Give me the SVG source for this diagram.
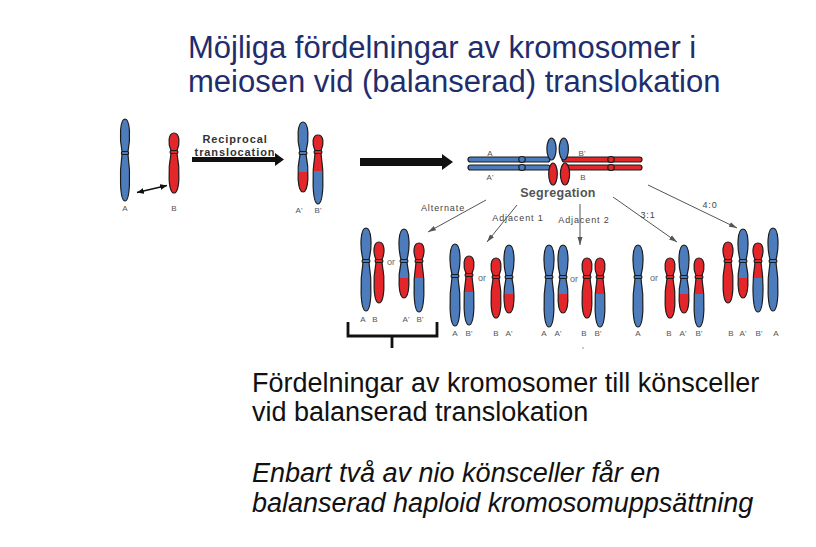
<svg xmlns="http://www.w3.org/2000/svg" xmlns:xlink="http://www.w3.org/1999/xlink" width="816" height="547" viewBox="0 0 816 547">
<style>
.b{fill:#4d7cbd;stroke:#1c1c1c;stroke-width:1.2}
.r{fill:#e2262a;stroke:#1c1c1c;stroke-width:1.2}
.o{stroke:#1c1c1c;stroke-width:1.2}
.title{font-family:"Liberation Sans",Arial,sans-serif;font-size:31px;fill:#1f2d6d}
.body{font-family:"Liberation Sans",Arial,sans-serif;font-size:27px;fill:#111}
.it{font-style:italic}
.lab{font-family:"Liberation Sans",Arial,sans-serif;font-size:8px;fill:#555;text-anchor:middle}
.or{font-family:"Liberation Sans",Arial,sans-serif;font-size:9px;fill:#666;text-anchor:middle}
.br{font-family:"Liberation Sans",Arial,sans-serif;font-size:9px;fill:#444;text-anchor:middle;letter-spacing:0.9px}
.seg{font-family:"Liberation Sans",Arial,sans-serif;font-size:12.5px;font-weight:bold;fill:#555;text-anchor:middle;letter-spacing:0.3px}
.rec{font-family:"Liberation Sans",Arial,sans-serif;font-size:11px;font-weight:bold;fill:#333;text-anchor:middle;letter-spacing:0.9px}
.thin{stroke:#555;stroke-width:1;fill:none;marker-end:url(#g)}
</style>
<defs>
<marker id="g" viewBox="0 0 8 6" refX="8" refY="3" markerWidth="8" markerHeight="6" markerUnits="userSpaceOnUse" orient="auto"><path d="M0,0.5 L8,3 L0,5.5 Z" fill="#555"/></marker>
<marker id="k" viewBox="0 0 7 6" refX="7" refY="3" markerWidth="7" markerHeight="6" markerUnits="userSpaceOnUse" orient="auto-start-reverse"><path d="M0,0 L7,3 L0,6 Z" fill="#111"/></marker>
<linearGradient id="gBR278" gradientUnits="userSpaceOnUse" x1="0" y1="0" x2="0" y2="1000"><stop offset="0.278" stop-color="#4d7cbd"/><stop offset="0.278" stop-color="#e2262a"/></linearGradient>
<linearGradient id="gRB278" gradientUnits="userSpaceOnUse" x1="0" y1="0" x2="0" y2="1000"><stop offset="0.278" stop-color="#e2262a"/><stop offset="0.278" stop-color="#4d7cbd"/></linearGradient>
<linearGradient id="gBR294" gradientUnits="userSpaceOnUse" x1="0" y1="0" x2="0" y2="1000"><stop offset="0.294" stop-color="#4d7cbd"/><stop offset="0.294" stop-color="#e2262a"/></linearGradient>
<linearGradient id="gRB294" gradientUnits="userSpaceOnUse" x1="0" y1="0" x2="0" y2="1000"><stop offset="0.294" stop-color="#e2262a"/><stop offset="0.294" stop-color="#4d7cbd"/></linearGradient>
<linearGradient id="gBR172" gradientUnits="userSpaceOnUse" x1="0" y1="0" x2="0" y2="1000"><stop offset="0.172" stop-color="#4d7cbd"/><stop offset="0.172" stop-color="#e2262a"/></linearGradient>
<linearGradient id="gRB171" gradientUnits="userSpaceOnUse" x1="0" y1="0" x2="0" y2="1000"><stop offset="0.171" stop-color="#e2262a"/><stop offset="0.171" stop-color="#4d7cbd"/></linearGradient>
<!-- centromere at 261 -->
<g id="cA_hi"><path class="b" d="M-3,259.5C-6.2,246.9 -5.8,228 0,228C5.8,228 6.2,246.9 3,259.5Z"/><path class="b" d="M-3,262.5C-6.2,281.9 -5.8,311 0,311C5.8,311 6.2,281.9 3,262.5Z"/><rect class="b" x="-3.8" y="259.5" width="7.6" height="3" rx="1"/></g>
<g id="cB_hi"><path class="r" d="M-3,259.5C-6.2,252.5 -5.8,242 0,242C5.8,242 6.2,252.5 3,259.5Z"/><path class="r" d="M-3,262.5C-6.2,278.7 -5.8,303 0,303C5.8,303 6.2,278.7 3,262.5Z"/><rect class="r" x="-3.8" y="259.5" width="7.6" height="3" rx="1"/></g>
<g id="cAp_hi"><path class="b" d="M-3,259.5C-6.2,247.3 -5.8,229 0,229C5.8,229 6.2,247.3 3,259.5Z"/><path class="o" fill="url(#gBR278)" d="M-3,262.5C-6.2,276.7 -5.8,298 0,298C5.8,298 6.2,276.7 3,262.5Z"/><rect class="b" x="-3.8" y="259.5" width="7.6" height="3" rx="1"/></g>
<g id="cBp_hi"><path class="r" d="M-3,259.5C-6.2,252.9 -5.8,243 0,243C5.8,243 6.2,252.9 3,259.5Z"/><path class="o" fill="url(#gRB278)" d="M-3,262.5C-6.2,282.3 -5.8,312 0,312C5.8,312 6.2,282.3 3,262.5Z"/><rect class="r" x="-3.8" y="259.5" width="7.6" height="3" rx="1"/></g>
<!-- centromere at 277 -->
<g id="cA_lo"><path class="b" d="M-3,275.5C-6.2,263.3 -5.8,245 0,245C5.8,245 6.2,263.3 3,275.5Z"/><path class="b" d="M-3,278.5C-6.2,297.9 -5.8,327 0,327C5.8,327 6.2,297.9 3,278.5Z"/><rect class="b" x="-3.8" y="275.5" width="7.6" height="3" rx="1"/></g>
<g id="cB_lo"><path class="r" d="M-3,275.5C-6.2,268.5 -5.8,258 0,258C5.8,258 6.2,268.5 3,275.5Z"/><path class="r" d="M-3,278.5C-6.2,294.3 -5.8,318 0,318C5.8,318 6.2,294.3 3,278.5Z"/><rect class="r" x="-3.8" y="275.5" width="7.6" height="3" rx="1"/></g>
<g id="cAp_lo"><path class="b" d="M-3,275.5C-6.2,263.3 -5.8,245 0,245C5.8,245 6.2,263.3 3,275.5Z"/><path class="o" fill="url(#gBR294)" d="M-3,278.5C-6.2,292.3 -5.8,313 0,313C5.8,313 6.2,292.3 3,278.5Z"/><rect class="b" x="-3.8" y="275.5" width="7.6" height="3" rx="1"/></g>
<g id="cBp_lo"><path class="r" d="M-3,275.5C-6.2,268.5 -5.8,258 0,258C5.8,258 6.2,268.5 3,275.5Z"/><path class="o" fill="url(#gRB294)" d="M-3,278.5C-6.2,297.9 -5.8,327 0,327C5.8,327 6.2,297.9 3,278.5Z"/><rect class="r" x="-3.8" y="275.5" width="7.6" height="3" rx="1"/></g>
</defs>
<rect width="816" height="547" fill="#fff"/>

<g id="title">
<text class="title" x="188" y="58">Möjliga fördelningar av kromosomer i</text>
<text class="title" x="188" y="92">meiosen vid (balanserad) translokation</text>
</g>

<g id="normal-pair">
<g transform="translate(125,0)"><path class="b" d="M-3,151.5C-5.6,138.5 -5.2,119 0,119C5.2,119 5.6,138.5 3,151.5Z"/><path class="b" d="M-3,154.5C-5.6,173.1 -5.2,201 0,201C5.2,201 5.6,173.1 3,154.5Z"/><rect class="b" x="-3.5" y="151.5" width="7" height="3" rx="1"/></g>
<g transform="translate(174,0)"><path class="r" d="M-3,150.5C-6.2,143.5 -5.8,133 0,133C5.8,133 6.2,143.5 3,150.5Z"/><path class="r" d="M-3,153.5C-6.2,169.3 -5.8,193 0,193C5.8,193 6.2,169.3 3,153.5Z"/><rect class="r" x="-3.8" y="150.5" width="7.6" height="3" rx="1"/></g>
<text class="lab" x="125" y="211">A</text>
<text class="lab" x="174" y="211">B</text>
</g>

<g id="translocated-pair">
<g transform="translate(303,0)"><path class="b" d="M-3,151.5C-6.2,139.7 -5.8,122 0,122C5.8,122 6.2,139.7 3,151.5Z"/><path class="o" fill="url(#gBR172)" d="M-3,154.5C-6.2,169.5 -5.8,192 0,192C5.8,192 6.2,169.5 3,154.5Z"/><rect class="b" x="-3.8" y="151.5" width="7.6" height="3" rx="1"/></g>
<g transform="translate(318,0)"><path class="r" d="M-3,150.5C-6.2,144.3 -5.8,135 0,135C5.8,135 6.2,144.3 3,150.5Z"/><path class="o" fill="url(#gRB171)" d="M-3,153.5C-6.2,173.7 -5.8,204 0,204C5.8,204 6.2,173.7 3,153.5Z"/><rect class="r" x="-3.8" y="150.5" width="7.6" height="3" rx="1"/></g>
<text class="lab" x="299" y="213">A'</text>
<text class="lab" x="318" y="213">B'</text>
</g>

<g id="quadrivalent">
<rect class="b" x="468" y="157" width="82" height="5" rx="2.5"/>
<rect class="b" x="468" y="165" width="82" height="5" rx="2.5"/>
<ellipse class="b" cx="522" cy="159.5" rx="3.2" ry="3"/>
<ellipse class="b" cx="522" cy="167.5" rx="3.2" ry="3"/>
<rect class="r" x="562" y="157" width="80" height="5" rx="2.5"/>
<rect class="r" x="562" y="165" width="80" height="5" rx="2.5"/>
<ellipse class="r" cx="611" cy="159.5" rx="3.2" ry="3"/>
<ellipse class="r" cx="611" cy="167.5" rx="3.2" ry="3"/>
<ellipse class="b" cx="551.5" cy="149" rx="4.6" ry="11"/>
<ellipse class="b" cx="563.8" cy="149" rx="4.6" ry="11"/>
<ellipse class="r" cx="553" cy="174" rx="4.3" ry="11"/>
<ellipse class="r" cx="565" cy="174" rx="4.6" ry="11"/>
<text class="lab" x="490" y="155.5">A</text>
<text class="lab" x="490" y="180">A'</text>
<text class="lab" x="582" y="156">B'</text>
<text class="lab" x="583" y="180">B</text>
<text class="seg" x="558" y="197">Segregation</text>
</g>

<g id="alternate">
<use xlink:href="#cA_hi" x="366"/>
<use xlink:href="#cB_hi" x="379"/>
<use xlink:href="#cAp_hi" x="404"/>
<use xlink:href="#cBp_hi" x="419"/>
<text class="or" x="391" y="264.5">or</text>
<text class="lab" x="363" y="322">A</text>
<text class="lab" x="375" y="322">B</text>
<text class="lab" x="406" y="322">A'</text>
<text class="lab" x="420" y="322">B'</text>
<path d="M348,322V336H437V322M392,336V348" fill="none" stroke="#111" stroke-width="2.8"/>
</g>

<g id="adjacent1">
<use xlink:href="#cA_lo" x="455" y="-1"/>
<use xlink:href="#cBp_lo" x="469" y="-2"/>
<use xlink:href="#cB_lo" x="496"/>
<use xlink:href="#cAp_lo" x="509"/>
<text class="or" x="482" y="281">or</text>
<text class="lab" x="455" y="336">A</text>
<text class="lab" x="469" y="336">B'</text>
<text class="lab" x="496" y="336">B</text>
<text class="lab" x="509" y="336">A'</text>
</g>

<g id="adjacent2">
<use xlink:href="#cA_lo" x="549"/>
<use xlink:href="#cAp_lo" x="563"/>
<use xlink:href="#cB_lo" x="587"/>
<use xlink:href="#cBp_lo" x="600"/>
<text class="or" x="574" y="282">or</text>
<text class="lab" x="544" y="336">A</text>
<text class="lab" x="558" y="336">A'</text>
<text class="lab" x="584" y="336">B</text>
<text class="lab" x="598" y="336">B'</text>
<circle cx="583" cy="348" r="0.8" fill="#888"/>
</g>

<g id="three-one">
<use xlink:href="#cA_lo" x="638"/>
<use xlink:href="#cB_lo" x="670"/>
<use xlink:href="#cAp_lo" x="684"/>
<use xlink:href="#cBp_lo" x="699"/>
<text class="or" x="654" y="281">or</text>
<text class="lab" x="638" y="336">A</text>
<text class="lab" x="669" y="336">B</text>
<text class="lab" x="683" y="336">A'</text>
<text class="lab" x="699" y="336">B'</text>
</g>

<g id="four-zero">
<use xlink:href="#cB_hi" x="728"/>
<use xlink:href="#cAp_hi" x="743"/>
<use xlink:href="#cBp_hi" x="758"/>
<use xlink:href="#cA_hi" x="773"/>
<text class="lab" x="731" y="336">B</text>
<text class="lab" x="743" y="336">A'</text>
<text class="lab" x="759" y="336">B'</text>
<text class="lab" x="776" y="336">A</text>
</g>

<g id="connectors">
<line x1="137" y1="192.5" x2="167" y2="185.5" stroke="#111" stroke-width="1.3" marker-start="url(#k)" marker-end="url(#k)"/>
<polygon points="192,157 275,157 275,153 284,159.5 275,166 275,162 192,162" fill="#111"/>
<text class="rec" x="235" y="143">Reciprocal</text>
<text class="rec" x="235" y="156">translocation</text>
<polygon points="360,158 442,158 442,154 453,162 442,170 442,166 360,166" fill="#111"/>
<line class="thin" x1="486" y1="200" x2="428" y2="232"/>
<line class="thin" x1="517" y1="205" x2="487" y2="242"/>
<line class="thin" x1="580" y1="204" x2="580" y2="245"/>
<line class="thin" x1="613" y1="197" x2="677" y2="242"/>
<line class="thin" x1="648" y1="185" x2="737" y2="228"/>
<text class="br" x="443" y="211">Alternate</text>
<text class="br" x="518" y="221">Adjacent 1</text>
<text class="br" x="584" y="223">Adjacent 2</text>
<text class="br" x="648" y="218">3:1</text>
<text class="br" x="710" y="208">4:0</text>
</g>

<g id="caption">
<text class="body" x="252" y="392">Fördelningar av kromosomer till könsceller</text>
<text class="body" x="252" y="421">vid balanserad translokation</text>
<text class="body it" x="252" y="482">Enbart två av nio könsceller får en</text>
<text class="body it" x="252" y="512">balanserad haploid kromosomuppsättning</text>
</g>
</svg>
